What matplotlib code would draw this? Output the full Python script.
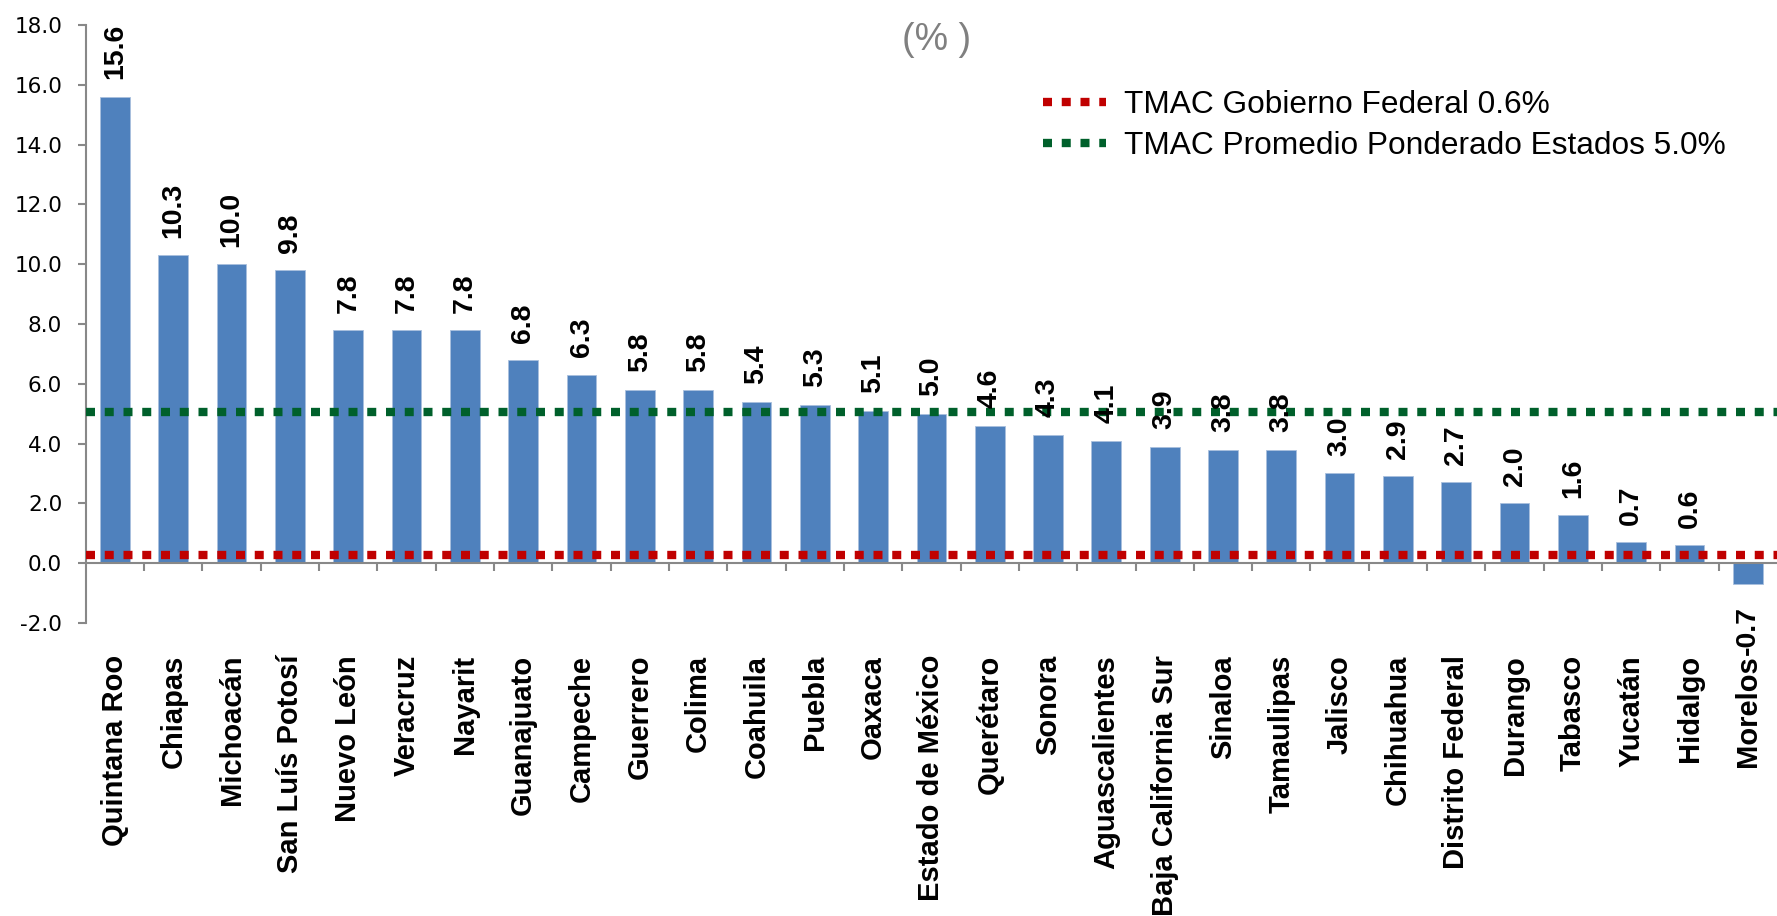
import matplotlib
matplotlib.use('Agg')
import matplotlib.pyplot as plt
import numpy as np
from matplotlib.lines import Line2D

# datos
states = ['Quintana Roo', 'Chiapas', 'Michoacán', 'San Luís Potosí', 'Nuevo León', 'Veracruz',
          'Nayarit', 'Guanajuato', 'Campeche', 'Guerrero', 'Colima', 'Coahuila', 'Puebla',
          'Oaxaca', 'Estado de México', 'Querétaro', 'Sonora', 'Aguascalientes',
          'Baja California Sur', 'Sinaloa', 'Tamaulipas', 'Jalisco', 'Chihuahua',
          'Distrito Federal', 'Durango', 'Tabasco', 'Yucatán', 'Hidalgo', 'Morelos']
values = [15.6, 10.3, 10.0, 9.8, 7.8, 7.8, 7.8, 6.8, 6.3, 5.8, 5.8, 5.4, 5.3, 5.1, 5.0, 4.6,
          4.3, 4.1, 3.9, 3.8, 3.8, 3.0, 2.9, 2.7, 2.0, 1.6, 0.7, 0.6, -0.7]

# lineas de referencia (nivel tal como se ve en la grafica)
ref_labels = ['TMAC Gobierno Federal 0.6%', 'TMAC Promedio Ponderado Estados 5.0%']
ref_levels = [0.28, 5.05]
ref_colors = ['#C00000', '#00602B']

y_ticks = [-2, 0, 2, 4, 6, 8, 10, 12, 14, 16, 18]

plt.rcParams['font.family'] = ['Liberation Sans', 'DejaVu Sans']

fig = plt.figure(figsize=(17.77, 9.16), dpi=100)
ax = fig.add_axes([0.0483, 0.3199, 0.9517, 0.6528])

x = np.arange(len(states))
ax.bar(x, values, width=0.51, color='#4F81BD', edgecolor='#A9C0DE', linewidth=0.6, zorder=2)

# lineas punteadas
for lvl, col in zip(ref_levels, ref_colors):
    ax.axhline(lvl, color=col, linewidth=6, linestyle=(0, (1.08, 1.17)),
               dash_capstyle='butt', zorder=3)

ax.set_xlim(-0.5, len(states) - 0.5)
ax.set_ylim(-2, 18)

# ejes
for s in ['top', 'right']:
    ax.spines[s].set_visible(False)
ax.spines['left'].set_color('#888888')
ax.spines['left'].set_linewidth(1.5)
ax.spines['bottom'].set_position(('data', 0))
ax.spines['bottom'].set_color('#888888')
ax.spines['bottom'].set_linewidth(1.5)

ax.set_yticks(y_ticks)
ax.set_yticklabels(['%.1f' % t for t in y_ticks], fontfamily='DejaVu Sans', fontsize=15.5)
ax.tick_params(axis='y', direction='out', length=6, width=1.5, color='#888888', pad=11)

ax.set_xticks(np.arange(0.5, len(states) - 0.5, 1))
ax.set_xticklabels([])
ax.tick_params(axis='x', direction='out', length=6, width=1.5, color='#888888')

# etiquetas de categoria
for i, name in enumerate(states):
    ax.annotate(name, xy=(i, 0), xycoords=('data', 'axes fraction'), xytext=(0, -23),
                textcoords='offset points', rotation=90, ha='center', va='top',
                fontsize=21, fontweight='bold')

# etiquetas de valor
for i, v in enumerate(values):
    if v >= 0:
        ax.annotate('%.1f' % v, xy=(i, v), xytext=(0, 12.5), textcoords='offset points',
                    rotation=90, ha='center', va='bottom', fontsize=20.5, fontweight='bold')
    else:
        ax.annotate('%.1f' % v, xy=(i, v), xytext=(0, -16), textcoords='offset points',
                    rotation=90, ha='center', va='top', fontsize=20.5, fontweight='bold')

# leyenda
handles = [Line2D([0], [0], color=c, linewidth=6, linestyle=(0, (1.08, 1.17)),
                  dash_capstyle='butt') for c in ref_colors]
fig.legend(handles, ref_labels, loc='upper left', bbox_to_anchor=(0.587, 0.902),
           frameon=False, fontsize=22.8, borderpad=0, borderaxespad=0,
           handlelength=2.0, handletextpad=0.55, labelspacing=0.35)

# subtitulo
fig.text(0.527, 0.956, '(% )', ha='center', va='center', fontsize=27, color='#808080')

fig.savefig('out.png', dpi=100)
